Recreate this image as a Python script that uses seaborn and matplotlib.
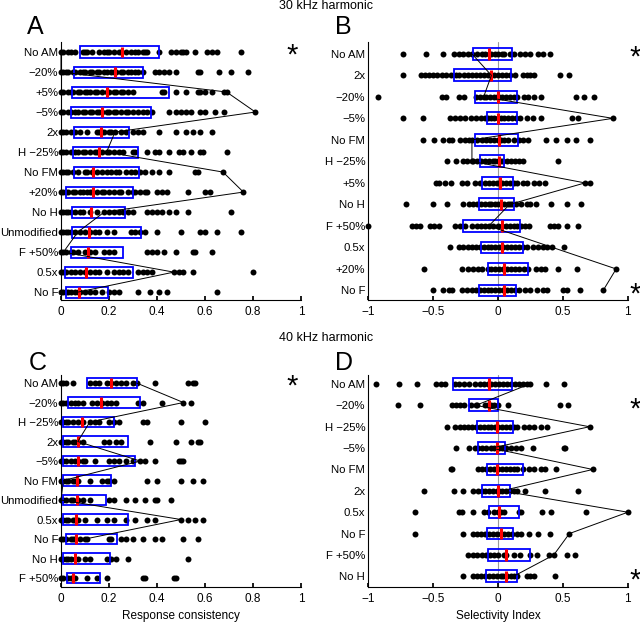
import matplotlib
matplotlib.use("Agg")
import matplotlib.pyplot as plt
import pandas as pd
import seaborn as sns

M = "\u2212"

# A: 30 kHz harmonic, response consistency
a_cats = ["No AM", M + "20%", "+5%", M + "5%", "2x", "H " + M + "25%", "No FM",
          "+20%", "No H", "Unmodified", "F +50%", "0.5x", "No F"]
a_points = [
    [0, 0.01, 0.03, 0.04, 0.06, 0.09, 0.10, 0.11, 0.13, 0.16, 0.18, 0.19, 0.20, 0.22, 0.24, 0.25, 0.27,
     0.29, 0.31, 0.32, 0.34, 0.35, 0.36, 0.41, 0.46, 0.48, 0.50, 0.51, 0.52, 0.56, 0.61, 0.63, 0.65, 0.75],
    [0, 0.01, 0.02, 0.03, 0.05, 0.06, 0.08, 0.09, 0.10, 0.12, 0.13, 0.15, 0.16, 0.18, 0.19, 0.21, 0.22,
     0.23, 0.25, 0.26, 0.28, 0.29, 0.31, 0.32, 0.34, 0.39, 0.41, 0.43, 0.45, 0.48, 0.57, 0.58, 0.66, 0.71, 0.78],
    [0, 0.01, 0.03, 0.04, 0.05, 0.07, 0.08, 0.10, 0.11, 0.12, 0.14, 0.15, 0.17, 0.19, 0.20, 0.22, 0.23,
     0.25, 0.26, 0.28, 0.30, 0.42, 0.43, 0.48, 0.52, 0.57, 0.58, 0.60, 0.63, 0.68, 0.69],
    [0, 0.01, 0.03, 0.04, 0.06, 0.07, 0.09, 0.10, 0.12, 0.13, 0.15, 0.16, 0.17, 0.19, 0.20, 0.22, 0.23,
     0.25, 0.27, 0.28, 0.30, 0.32, 0.34, 0.36, 0.38, 0.45, 0.48, 0.50, 0.52, 0.54, 0.58, 0.60, 0.64, 0.68, 0.81],
    [0, 0.01, 0.02, 0.04, 0.06, 0.08, 0.11, 0.15, 0.16, 0.17, 0.18, 0.20, 0.21, 0.225, 0.25, 0.27, 0.30,
     0.32, 0.34, 0.41, 0.48, 0.52, 0.55, 0.58, 0.63],
    [0, 0.01, 0.02, 0.04, 0.06, 0.07, 0.09, 0.10, 0.12, 0.14, 0.15, 0.17, 0.19, 0.20, 0.22, 0.24, 0.26,
     0.30, 0.31, 0.36, 0.39, 0.41, 0.45, 0.49, 0.51, 0.54, 0.58, 0.59, 0.69],
    [0, 0.01, 0.02, 0.03, 0.05, 0.07, 0.10, 0.11, 0.13, 0.15, 0.17, 0.19, 0.21, 0.23, 0.24, 0.27, 0.29,
     0.31, 0.33, 0.35, 0.38, 0.41, 0.45, 0.56, 0.57, 0.675],
    [0, 0.01, 0.02, 0.03, 0.05, 0.06, 0.08, 0.09, 0.11, 0.12, 0.13, 0.15, 0.17, 0.18, 0.20, 0.22, 0.24,
     0.25, 0.28, 0.30, 0.31, 0.33, 0.35, 0.36, 0.40, 0.42, 0.44, 0.53, 0.60, 0.62, 0.76],
    [0, 0.01, 0.02, 0.03, 0.04, 0.06, 0.08, 0.09, 0.12, 0.15, 0.18, 0.20, 0.22, 0.24, 0.26, 0.28, 0.30,
     0.36, 0.38, 0.40, 0.42, 0.45, 0.48, 0.53, 0.71],
    [0, 0.01, 0.02, 0.03, 0.04, 0.06, 0.08, 0.10, 0.12, 0.14, 0.16, 0.19, 0.22, 0.29, 0.31, 0.33, 0.35,
     0.40, 0.50, 0.58, 0.60, 0.65, 0.75],
    [0, 0.01, 0.02, 0.04, 0.05, 0.07, 0.10, 0.12, 0.14, 0.18, 0.20, 0.22, 0.36, 0.38, 0.40, 0.43, 0.48,
     0.55, 0.56, 0.63],
    [0, 0.01, 0.02, 0.04, 0.06, 0.08, 0.10, 0.12, 0.14, 0.16, 0.19, 0.22, 0.24, 0.26, 0.28, 0.32, 0.34,
     0.36, 0.38, 0.47, 0.49, 0.51, 0.55, 0.80],
    [0, 0.01, 0.02, 0.03, 0.04, 0.06, 0.07, 0.08, 0.10, 0.12, 0.14, 0.17, 0.20, 0.22, 0.24, 0.32, 0.37,
     0.41, 0.44, 0.65],
]
a_q1 = [0.08, 0.054, 0.044, 0.04, 0.054, 0.051, 0.056, 0.021, 0.044, 0.047, 0.042, 0.017, 0.019]
a_med = [0.255, 0.225, 0.19, 0.17, 0.167, 0.158, 0.132, 0.132, 0.124, 0.118, 0.114, 0.104, 0.075]
a_q3 = [0.41, 0.34, 0.45, 0.374, 0.285, 0.322, 0.325, 0.30, 0.267, 0.332, 0.26, 0.30, 0.197]
a_path = [0, 0, 0.69, 0.81, 0.225, 0.19, 0.675, 0.76, 0.18, 0.07, 0.01, 0.47, 0.07]
a_stars = ["No AM"]

# B: 30 kHz harmonic, selectivity index
b_cats = ["No AM", "2x", M + "20%", M + "5%", "No FM", "H " + M + "25%", "+5%", "No H",
          "F +50%", "0.5x", "+20%", "No F"]
b_points = [
    [-0.73, -0.55, -0.42, -0.335, -0.30, -0.27, -0.23, -0.20, -0.16, -0.125, -0.10, -0.07, -0.05, -0.02,
     0, 0.03, 0.05, 0.09, 0.12, 0.17, 0.21, 0.25, 0.31, 0.35, 0.40],
    [-0.73, -0.59, -0.56, -0.53, -0.50, -0.47, -0.43, -0.40, -0.36, -0.32, -0.30, -0.26, -0.23, -0.20,
     -0.17, -0.14, -0.11, -0.08, -0.05, -0.03, 0, 0.03, 0.06, 0.09, 0.13, 0.19, 0.22, 0.25, 0.28, 0.48, 0.55],
    [-0.92, -0.43, -0.40, -0.30, -0.26, -0.17, -0.14, -0.11, -0.09, -0.06, -0.03, -0.01, 0.01, 0.03, 0.06,
     0.09, 0.12, 0.15, 0.20, 0.23, 0.28, 0.33, 0.60, 0.66, 0.74],
    [-0.73, -0.58, -0.37, -0.33, -0.29, -0.25, -0.21, -0.17, -0.13, -0.10, -0.08, -0.05, -0.03, 0, 0.02,
     0.05, 0.08, 0.11, 0.14, 0.17, 0.22, 0.27, 0.33, 0.57, 0.62, 0.885],
    [-0.58, -0.49, -0.42, -0.38, -0.35, -0.29, -0.25, -0.22, -0.20, -0.16, -0.12, -0.09, -0.06, -0.03, 0,
     0.02, 0.05, 0.08, 0.12, 0.16, 0.19, 0.23, 0.37, 0.45, 0.53, 0.60, 0.71],
    [-0.39, -0.32, -0.27, -0.24, -0.20, -0.19, -0.16, -0.13, -0.10, -0.07, -0.04, -0.02, 0, 0.02, 0.04,
     0.07, 0.10, 0.13, 0.16, 0.19, 0.46],
    [-0.48, -0.45, -0.41, -0.36, -0.28, -0.24, -0.18, -0.14, -0.10, -0.07, -0.04, -0.01, 0.01, 0.03, 0.06,
     0.09, 0.12, 0.15, 0.19, 0.22, 0.28, 0.32, 0.36, 0.67, 0.71],
    [-0.71, -0.50, -0.39, -0.27, -0.22, -0.19, -0.16, -0.13, -0.10, -0.07, -0.05, -0.02, 0, 0.02, 0.05,
     0.08, 0.09, 0.11, 0.14, 0.18, 0.22, 0.25, 0.29, 0.41, 0.53, 0.64],
    [-1.0, -0.66, -0.63, -0.60, -0.52, -0.49, -0.45, -0.33, -0.29, -0.25, -0.20, -0.16, -0.13, -0.10,
     -0.07, -0.04, 0, 0.03, 0.06, 0.09, 0.12, 0.15, 0.18, 0.21, 0.24, 0.40, 0.43, 0.46, 0.53, 0.62],
    [-0.37, -0.30, -0.27, -0.23, -0.20, -0.17, -0.14, -0.11, -0.08, -0.05, -0.02, 0.01, 0.04, 0.07, 0.10,
     0.13, 0.16, 0.19, 0.22, 0.27, 0.31, 0.35, 0.38, 0.42, 0.51],
    [-0.57, -0.28, -0.23, -0.19, -0.15, -0.12, -0.08, -0.05, -0.02, 0.01, 0.04, 0.07, 0.10, 0.13, 0.16,
     0.20, 0.23, 0.29, 0.33, 0.36, 0.46, 0.61, 0.91],
    [-0.50, -0.42, -0.38, -0.35, -0.28, -0.24, -0.20, -0.17, -0.14, -0.11, -0.08, -0.05, -0.02, 0.01, 0.04,
     0.07, 0.10, 0.13, 0.16, 0.21, 0.25, 0.30, 0.35, 0.38, 0.50, 0.53, 0.63, 0.81],
]
b_q1 = [-0.19, -0.34, -0.176, -0.087, -0.18, -0.14, -0.125, -0.143, -0.266, -0.13, -0.074, -0.146]
b_med = [-0.066, -0.05, 0, 0, 0.005, 0.01, 0.015, 0.02, 0.028, 0.033, 0.05, 0.05]
b_q3 = [0.105, 0.097, 0.148, 0.148, 0.156, 0.05, 0.118, 0.125, 0.169, 0.194, 0.228, 0.143]
b_path = [-0.20, -0.05, -0.11, 0.885, -0.20, -0.20, 0.67, 0.09, -0.07, 0.42, 0.91, 0.81]
b_stars = ["No AM", "No F"]

# C: 40 kHz harmonic, response consistency
c_cats = ["No AM", M + "20%", "H " + M + "25%", "2x", M + "5%", "No FM", "Unmodified", "0.5x",
          "No F", "No H", "F +50%"]
c_points = [
    [0, 0.01, 0.02, 0.05, 0.12, 0.14, 0.16, 0.19, 0.21, 0.23, 0.25, 0.27, 0.30, 0.315, 0.39, 0.53, 0.55, 0.56],
    [0, 0.01, 0.02, 0.04, 0.06, 0.07, 0.09, 0.13, 0.15, 0.17, 0.19, 0.21, 0.23, 0.32, 0.34, 0.42, 0.51, 0.54],
    [0, 0.01, 0.02, 0.03, 0.05, 0.07, 0.09, 0.12, 0.14, 0.16, 0.20, 0.22, 0.24, 0.34, 0.36, 0.50, 0.60],
    [0, 0.01, 0.02, 0.03, 0.05, 0.06, 0.07, 0.09, 0.18, 0.20, 0.23, 0.25, 0.37, 0.48, 0.54, 0.57, 0.58],
    [0, 0.01, 0.02, 0.04, 0.06, 0.07, 0.09, 0.10, 0.14, 0.20, 0.22, 0.24, 0.27, 0.30, 0.33, 0.35, 0.39,
     0.49, 0.50, 0.51],
    [0, 0.01, 0.02, 0.03, 0.05, 0.06, 0.07, 0.12, 0.17, 0.19, 0.20, 0.22, 0.36, 0.40, 0.50, 0.55, 0.59],
    [0, 0.01, 0.02, 0.04, 0.05, 0.07, 0.09, 0.12, 0.20, 0.22, 0.27, 0.31, 0.35, 0.39, 0.40, 0.46],
    [0, 0.01, 0.02, 0.03, 0.05, 0.06, 0.07, 0.10, 0.15, 0.19, 0.22, 0.27, 0.31, 0.36, 0.39, 0.50, 0.53,
     0.56, 0.59],
    [0, 0.01, 0.02, 0.04, 0.05, 0.06, 0.08, 0.10, 0.11, 0.20, 0.21, 0.25, 0.27, 0.30, 0.34, 0.39, 0.42,
     0.51, 0.57],
    [0, 0.01, 0.02, 0.03, 0.04, 0.06, 0.07, 0.10, 0.12, 0.19, 0.21, 0.23, 0.28, 0.53],
    [0, 0.01, 0.03, 0.04, 0.05, 0.06, 0.11, 0.15, 0.19, 0.34, 0.35, 0.47, 0.48],
]
c_q1 = [0.11, 0.028, 0.01, 0.01, 0.007, 0.007, 0.007, 0.007, 0.019, 0.01, 0.024]
c_med = [0.208, 0.167, 0.086, 0.072, 0.07, 0.068, 0.068, 0.062, 0.062, 0.058, 0.05]
c_q3 = [0.315, 0.33, 0.222, 0.28, 0.308, 0.208, 0.188, 0.278, 0.235, 0.204, 0.163]
c_path = [0.315, 0.51, 0.12, 0.07, 0.33, 0.01, 0, 0.50, 0.10]
c_stars = ["No AM"]

# D: 40 kHz harmonic, selectivity index
d_cats = ["No AM", M + "20%", "H " + M + "25%", M + "5%", "No FM", "2x", "0.5x", "No F",
          "F +50%", "No H"]
d_points = [
    [-0.94, -0.76, -0.62, -0.48, -0.44, -0.41, -0.33, -0.30, -0.26, -0.22, -0.18, -0.14, -0.11, -0.08,
     -0.05, -0.02, 0.01, 0.04, 0.07, 0.10, 0.13, 0.16, 0.19, 0.22, 0.245, 0.37, 0.51],
    [-0.77, -0.60, -0.35, -0.32, -0.29, -0.26, -0.21, -0.17, -0.16, -0.10, -0.08, -0.05, -0.03, 0, 0.08,
     0.48, 0.54],
    [-0.39, -0.33, -0.29, -0.26, -0.23, -0.20, -0.17, -0.14, -0.11, -0.08, -0.05, -0.02, 0, 0.03, 0.06,
     0.09, 0.12, 0.15, 0.20, 0.24, 0.28, 0.33, 0.38, 0.705],
    [-0.32, -0.22, -0.18, -0.15, -0.12, -0.09, -0.05, -0.03, -0.01, 0.01, 0.03, 0.06, 0.10, 0.14, 0.18,
     0.27, 0.51, 0.52],
    [-0.36, -0.35, -0.15, -0.12, -0.09, -0.06, -0.03, 0, 0.03, 0.06, 0.09, 0.12, 0.15, 0.19, 0.24, 0.28,
     0.33, 0.36, 0.45, 0.73],
    [-0.57, -0.34, -0.27, -0.19, -0.15, -0.12, -0.10, -0.07, -0.04, -0.01, 0.01, 0.03, 0.06, 0.09, 0.12,
     0.15, 0.21, 0.36, 0.62],
    [-0.64, -0.30, -0.28, -0.19, -0.11, -0.08, -0.03, 0, 0.02, 0.05, 0.16, 0.18, 0.34, 0.41, 0.68, 1.0],
    [-0.64, -0.27, -0.19, -0.16, -0.13, -0.10, -0.07, -0.04, -0.01, 0.02, 0.05, 0.08, 0.11, 0.15, 0.18,
     0.24, 0.31, 0.40, 0.55],
    [-0.23, -0.19, -0.16, -0.12, -0.09, -0.06, -0.03, 0, 0.05, 0.06, 0.12, 0.17, 0.25, 0.30, 0.39, 0.43,
     0.53, 0.59],
    [-0.27, -0.19, -0.16, -0.13, -0.10, -0.07, -0.04, -0.01, 0.02, 0.04, 0.07, 0.10, 0.12, 0.15, 0.22,
     0.25, 0.28, 0.44],
]
d_q1 = [-0.343, -0.22, -0.158, -0.15, -0.087, -0.12, -0.07, -0.087, -0.08, -0.092]
d_med = [-0.066, -0.066, -0.01, -0.01, -0.005, 0, 0.005, 0.02, 0.06, 0.06]
d_q3 = [0.105, 0, 0.118, 0.054, 0.194, 0.092, 0.16, 0.118, 0.245, 0.15]
d_path = [0.245, -0.17, 0.705, -0.05, 0.73, 0.03, 1.0, 0.55, 0.43, 0.12]
d_stars = [M + "20%", "No H"]

rc_ticks = [0, 0.2, 0.4, 0.6, 0.8, 1]
rc_labels = ["0", "0.2", "0.4", "0.6", "0.8", "1"]
si_ticks = [-1, -0.5, 0, 0.5, 1]
si_labels = [M + "1", M + "0.5", "0", "0.5", "1"]


def draw_panel(ax, cats, points, q1, med, q3, path, stars, selectivity, ylim):
    df = pd.DataFrame({
        "cond": [c for c, p in zip(cats, points) for _ in p],
        "value": [v for p in points for v in p],
    })
    if selectivity:
        ax.axvline(0, color="#9a9a9a", lw=0.8, zorder=0)
    sns.stripplot(data=df, x="value", y="cond", order=cats, jitter=False, color="black",
                  size=4.3, linewidth=0, ax=ax, zorder=2, clip_on=False)
    rows = list(range(len(cats)))
    ax.barh(rows, [b - a for a, b in zip(q1, q3)], left=q1, height=0.55, fill=False,
            edgecolor="blue", linewidth=1.3, zorder=3)
    ax.vlines(med, [r - 0.27 for r in rows], [r + 0.27 for r in rows], colors="red",
              linewidth=2.2, zorder=4)
    ax.plot(path, rows[:len(path)], color="black", linewidth=0.7, zorder=5, clip_on=False)

    if selectivity:
        ax.set_xlim(-1, 1)
        ax.set_xticks(si_ticks)
        ax.set_xticklabels(si_labels)
        star_x = 1.055
    else:
        ax.set_xlim(0, 1)
        ax.set_xticks(rc_ticks)
        ax.set_xticklabels(rc_labels)
        star_x = 0.965
    # asterisk glyph sits high in its box, so nudge it down onto the row
    for s in stars:
        ax.text(star_x, cats.index(s) + 0.18, "*", fontsize=21, ha="center", va="center",
                color="black", clip_on=False)
    ax.set_ylim(*ylim)
    ax.set_ylabel("")
    ax.set_xlabel("")
    ax.tick_params(axis="x", direction="in", length=3, labelsize=8.5, pad=4)
    ax.tick_params(axis="y", length=0, labelsize=8.2, pad=2)
    sns.despine(ax=ax)
    for sp in ax.spines.values():
        sp.set_linewidth(0.8)


sns.set_theme(style="ticks")
plt.rcParams["font.family"] = ["Liberation Sans", "DejaVu Sans"]
plt.rcParams["axes.unicode_minus"] = True
for key in ["text.color", "axes.labelcolor", "xtick.color", "ytick.color", "axes.edgecolor"]:
    plt.rcParams[key] = "black"

fig = plt.figure(figsize=(6.4, 6.24), dpi=100)
ax_a = fig.add_axes([0.0953, 0.519, 0.375, 0.4137])
ax_b = fig.add_axes([0.575, 0.519, 0.406, 0.4137])
ax_c = fig.add_axes([0.0953, 0.0593, 0.375, 0.3397])
ax_d = fig.add_axes([0.575, 0.0593, 0.406, 0.3397])

draw_panel(ax_a, a_cats, a_points, a_q1, a_med, a_q3, a_path, a_stars, False, (12.4, -0.5))
draw_panel(ax_b, b_cats, b_points, b_q1, b_med, b_q3, b_path, b_stars, True, (11.45, -0.55))
draw_panel(ax_c, c_cats, c_points, c_q1, c_med, c_q3, c_path, c_stars, False, (10.46, -0.41))
draw_panel(ax_d, d_cats, d_points, d_q1, d_med, d_q3, d_path, d_stars, True, (9.5, -0.42))

ax_c.set_xlabel("Response consistency", fontsize=8.5)
ax_d.set_xlabel("Selectivity Index", fontsize=8.5)

fig.text(0.51, 0.99, "30 kHz harmonic", fontsize=9, ha="center", va="center")
fig.text(0.51, 0.459, "40 kHz harmonic", fontsize=9, ha="center", va="center")
for letter, x, y in [("A", 0.0555, 0.957), ("B", 0.536, 0.957),
                     ("C", 0.0586, 0.4175), ("D", 0.537, 0.4175)]:
    fig.text(x, y, letter, fontsize=18, ha="center", va="center")

fig.savefig("out.png", dpi=100)
